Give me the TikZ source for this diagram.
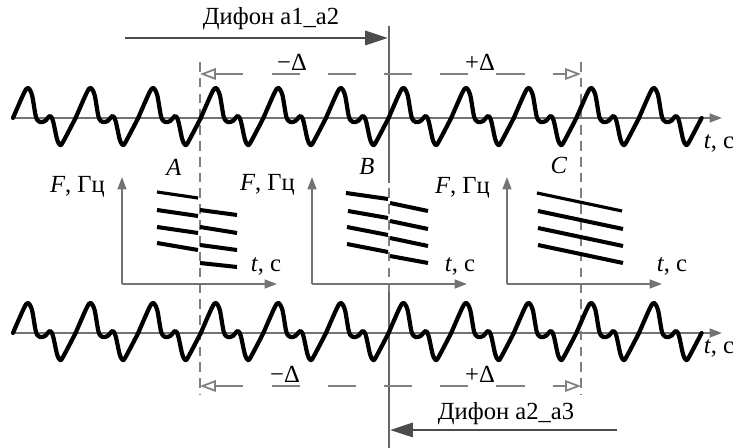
\documentclass[tikz,border=0pt]{standalone}
\usepackage{fontspec}
\setmainfont{Liberation Serif}
\usetikzlibrary{positioning,arrows.meta}

\begin{document}
\begin{tikzpicture}[
  x=0.02cm, y=-0.02cm,
  font=\fontsize{14}{16}\selectfont,
  wave/.style={line width=2.4pt, line join=round, line cap=round},
  taxis/.style={-{Triangle[length=7pt,width=5pt]}, line width=1.1pt, black!55},
  guide/.style={black!50, line width=1pt, dash pattern=on 5.5pt off 3.5pt},
  bline/.style={black!60, line width=1.3pt},
  shiftarrow/.style={{Triangle[open,length=9pt,width=6.5pt]}-{Triangle[open,length=9pt,width=6.5pt]}, black!50, line width=1pt, dash pattern=on 16pt off 16pt},
  diphone/.style={-{Triangle[length=13pt,width=8pt]}, line width=1.6pt, black!70},
  formant/.style={line width=2.3pt},
  waveperiod/.pic={\draw[wave] plot[smooth,tension=0.5] coordinates {(-15,0) (-4,-25) (0,-30) (4,-23) (8,-1) (12,4) (17,3) (22,-2) (25,3) (29,21) (32,27) (35,24) (47.6,0)};}
]
\useasboundingbox (0,0) rectangle (735,448);

\foreach \n/\x in {A/200,B/389,C/581}{
  \coordinate (\n1) at (\x,62);
  \coordinate (\n2) at (\x,395);
  \draw[guide] (\n1) -- (\n2);
}
\coordinate (Btop) at (389,26);
\coordinate (Bmid1) at (389,183);
\coordinate (Bmid2) at (389,292);
\coordinate (Bbot) at (389,448);
\draw[bline] (Btop) -- (Bmid1);
\draw[bline] (Bmid2) -- (Bbot);

\coordinate (shiftTL) at (200,74);
\coordinate (shiftTR) at (581,74);
\coordinate (shiftBL) at (200,386);
\coordinate (shiftBR) at (581,386);
\draw[shiftarrow] (shiftTL) -- (shiftTR);
\draw[shiftarrow] (shiftBL) -- (shiftBR);
\node (dm1) at (292,62) {−Δ};
\node (dp1) at (480,62) {+Δ};
\node (dm2) at (285,374) {−Δ};
\node (dp2) at (480,374) {+Δ};

\coordinate (d1s) at (125,38);
\coordinate (d1e) at (388,38);
\draw[diphone] (d1s) -- (d1e);
\node (diph1) at (271,19) {Дифон а1\_а2};
\coordinate (d2s) at (617,430);
\coordinate (d2e) at (390,430);
\draw[diphone] (d2s) -- (d2e);
\node (diph2) at (506,414) {Дифон а2\_а3};

\foreach \r/\ya/\ty in {top/118/143,bot/333/348}{
  \coordinate (\r0) at (13,\ya);
  \coordinate (\r1) at (722,\ya);
  \draw[taxis] (\r0) -- (\r1);
  \node (t\r) at (719,\ty) {\textit{t}, с};
  \foreach \k in {0,...,10}
    \pic at ({28+62.6*\k},\ya) {waveperiod};
}

\node (lblA) at (174,167) {\textit{A}};
\node (lblB) at (367,166) {\textit{B}};
\node (lblC) at (559,165) {\textit{C}};

\foreach \n/\x/\tx/\fy in {1/122/266/187,2/312/460/185,3/507/672/188}{
  \coordinate (O\n) at (\x,284);
  \coordinate (F\n) at (\x,177);
  \coordinate (T\n) at ({\x+155},284);
  \draw[taxis] (O\n) -- (F\n);
  \draw[taxis] (O\n) -- (T\n);
  \node[anchor=east] (fl\n) at ({\x-11},\fy) {\textit{F}, Гц};
  \node (tl\n) at (\tx,266) {\textit{t}, с};
}

\draw[formant, line width=1.8pt] (157,192) -- (198,198);
\foreach \a/\b in {{157,210}/{198,216},{157,227}/{198,233},{157,243}/{198,250},
  {200,210}/{237,215},{200,227}/{237,233},{200,245}/{237,250},{200,263}/{237,267},
  {346,193}/{388,199},{348,211}/{388,218},{347,227}/{388,235},{347,244}/{388,252},
  {390,203}/{428,211},{390,221}/{428,229},{390,238}/{428,246},{390,256}/{428,263},
  {538,211}/{623,229},{538,228}/{623,246},{538,245}/{623,263}}
  \draw[formant] (\a) -- (\b);
\draw[formant, line width=1.8pt] (537,193) -- (622,211);
\end{tikzpicture}
\end{document}
